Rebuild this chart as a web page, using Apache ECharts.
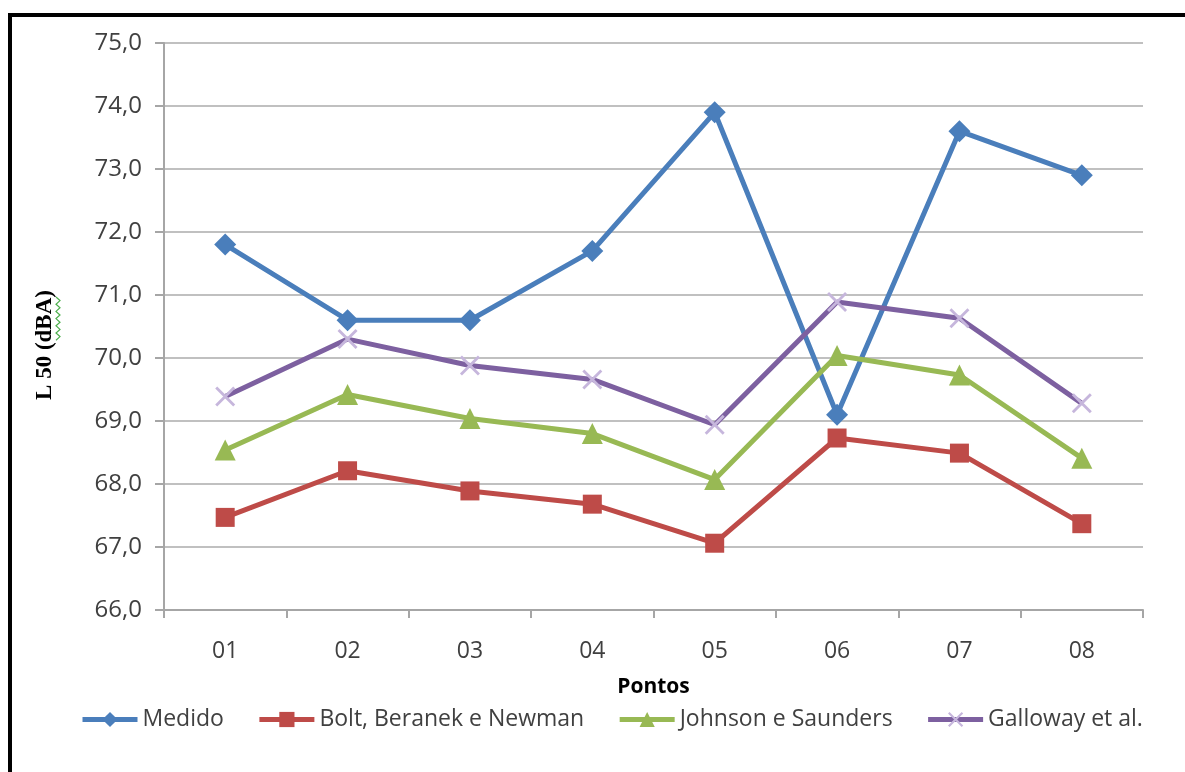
<!DOCTYPE html>
<html>
<head>
<meta charset="utf-8">
<script src="https://cdn.jsdelivr.net/npm/echarts@6/dist/echarts.min.js"></script>
<style>
  html, body { margin: 0; padding: 0; background: #fff; overflow: hidden; }
  #frame {
    position: absolute; left: 8px; top: 13px; width: 1200px; height: 800px;
    border-left: 4px solid #000; border-top: 4px solid #000; box-sizing: border-box;
  }
  #chart { position: absolute; left: 0; top: 0; width: 1185px; height: 772px; }
</style>
</head>
<body>
<div id="frame"></div>
<div id="chart"></div>
<script>
// Measuring points along the route
const categories = ['01', '02', '03', '04', '05', '06', '07', '08'];

// L50 levels in dB(A): measured and predicted by three models
const medido   = [71.8, 70.6, 70.6, 71.7, 73.9, 69.1, 73.6, 72.9];
const bolt     = [67.47, 68.21, 67.89, 67.68, 67.06, 68.73, 68.49, 67.37];
const johnson  = [68.54, 69.42, 69.04, 68.80, 68.07, 70.04, 69.73, 68.41];
const galloway = [69.39, 70.30, 69.88, 69.66, 68.94, 70.89, 70.63, 69.28];

const seriesNames = ['Medido', 'Bolt, Beranek e Newman', 'Johnson e Saunders', 'Galloway et al.'];
const yTitle = 'L 50 (dBA)';
const xTitle = 'Pontos';

const labelFont = '"Open Sans", Lato, sans-serif';
const crossPath = 'path://M0,1L1,0L10,9L9,10Z M9,0L10,1L1,10L0,9Z';

const chart = echarts.init(document.getElementById('chart'), null, { renderer: 'canvas' });

function lineSeries(name, data, color, symbol, size, symbolColor) {
  return {
    name: name,
    type: 'line',
    data: data,
    symbol: symbol,
    symbolSize: size,
    showAllSymbol: true,
    lineStyle: { color: color, width: 5 },
    itemStyle: { color: symbolColor || color, borderWidth: 0 },
    emphasis: { disabled: true },
    animation: false
  };
}

// green spell-check squiggle beside the unit of the vertical title
function squiggle(x, y0, y1) {
  const pts = [];
  const n = Math.round((y1 - y0) / 3.6);
  for (let i = 0; i <= n; i++) pts.push([i % 2 ? x + 4 : x, y0 + i * 3.6]);
  return pts;
}

chart.setOption({
  backgroundColor: 'transparent',
  animation: false,
  grid: { left: 164, right: 42, top: 43, bottom: 162, containLabel: false },
  xAxis: {
    type: 'category',
    data: categories,
    boundaryGap: true,
    name: xTitle,
    nameLocation: 'middle',
    nameGap: 67,
    nameTextStyle: { fontFamily: labelFont, fontSize: 21, fontWeight: 'bold', color: '#000' },
    axisLine: { lineStyle: { color: '#a6a6a6', width: 2 } },
    axisTick: { show: true, length: 8, lineStyle: { color: '#a6a6a6', width: 2 } },
    axisLabel: { fontFamily: labelFont, fontSize: 23, color: '#404040', margin: 30 },
    splitLine: { show: false }
  },
  yAxis: {
    type: 'value',
    min: 66,
    max: 75,
    interval: 1,
    axisLine: { show: true, lineStyle: { color: '#a6a6a6', width: 2 } },
    axisTick: { show: true, length: 9, lineStyle: { color: '#a6a6a6', width: 2 } },
    axisLabel: {
      fontFamily: labelFont, fontSize: 24, color: '#404040', margin: 22,
      formatter: v => v.toFixed(1).replace('.', ',')
    },
    splitLine: { show: true, lineStyle: { color: '#c0c0c0', width: 2 } }
  },
  legend: {
    bottom: 36,
    left: 75,
    itemWidth: 55,
    itemHeight: 19,
    itemGap: 33,
    lineStyle: { width: 5 },
    textStyle: { fontFamily: labelFont, fontSize: 23, color: '#404040' },
    data: seriesNames
  },
  series: [
    lineSeries(seriesNames[0], medido, '#4a7ebb', 'diamond', 22),
    lineSeries(seriesNames[1], bolt, '#be4b48', 'rect', 19),
    lineSeries(seriesNames[2], johnson, '#98b954', 'triangle', 21),
    lineSeries(seriesNames[3], galloway, '#7d60a0', crossPath, 20, '#c6b6dc')
  ],
  graphic: [
    {
      type: 'text',
      x: 45,
      y: 345,
      rotation: Math.PI / 2,
      style: {
        text: yTitle,
        fontFamily: '"Liberation Serif", "Times New Roman", serif',
        fontSize: 23,
        fontWeight: 'bold',
        fill: '#000',
        align: 'center',
        verticalAlign: 'middle'
      },
      silent: true
    },
    {
      type: 'polyline',
      shape: { points: squiggle(56, 297, 340) },
      style: { stroke: '#4cae4c', lineWidth: 1.2, fill: null },
      silent: true
    }
  ]
});
</script>
</body>
</html>
